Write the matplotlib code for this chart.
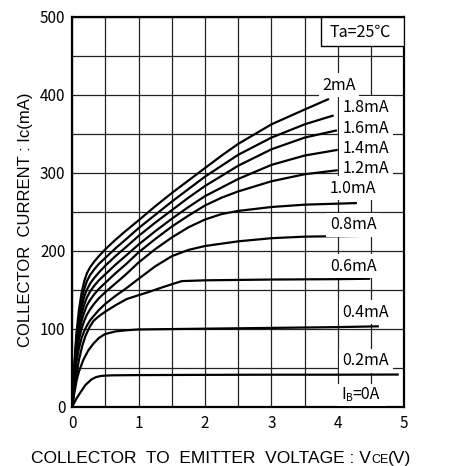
import matplotlib
matplotlib.use("Agg")
import matplotlib.pyplot as plt
from matplotlib.patches import Rectangle
from matplotlib.ticker import MultipleLocator

# --- collector characteristics, Ic (mA) vs Vce (V) ---
vce_hi = [0, .03, .06, .1, .14, .18, .22, .27, .33, .4, .5, .65, .8,
          1.0, 1.25, 1.5, 1.75, 2.0, 2.25, 2.5, 3.0, 3.5]

ic_2_0 = [0, 52, 92, 124, 146, 161, 171, 179, 186, 193, 202, 214, 225,
          239, 257, 274, 290, 306, 322, 337, 362, 381]
ic_1_8 = [0, 49, 86, 116, 137, 151, 161, 169, 176, 183, 191, 203, 214,
          229, 246, 263, 279, 295, 309, 323, 345, 362]
ic_1_6 = [0, 46, 81, 109, 128, 141, 150, 158, 165, 172, 181, 193, 204,
          219, 236, 252, 268, 283, 296, 309, 330, 345]
ic_1_4 = [0, 43, 76, 102, 119, 131, 140, 148, 155, 162, 170, 182, 193,
          208, 225, 241, 256, 270, 281, 292, 310, 322]
ic_1_2 = [0, 40, 71, 95, 110, 121, 130, 137, 144, 151, 159, 171, 182,
          198, 215, 231, 245, 258, 268, 276, 289, 298]
ic_1_0 = [0, 36, 64, 86, 100, 110, 118, 125, 132, 139, 147, 158, 169,
          185, 202, 217, 230, 240, 247, 251, 256, 259]
ic_0_8 = [0, 31, 56, 75, 88, 97, 104, 111, 117, 124, 132, 142, 151,
          164, 180, 193, 201, 206, 209, 212, 216, 218]

# end point (Vce, Ic) of each upper curve
ends_hi = [(3.85, 394), (3.92, 373), (3.97, 354), (3.98, 329),
           (3.98, 303), (4.27, 261), (4.41, 219)]

vce_0_6 = [0, .03, .06, .1, .15, .2, .26, .32, .4, .5, .65, .82, 1.0,
           1.15, 1.32, 1.5, 1.65, 2.0, 3.0, 4.0, 4.47]
ic_0_6 = [0, 22, 40, 60, 78, 91, 102, 110, 116, 122, 130, 138, 143,
          147, 152, 157, 161, 162, 163, 163.5, 164]

vce_0_4 = [0, .03, .066, .1, .166, .24, .32, .4, .49, .65, .82, 1.0,
           1.5, 2, 3, 4, 4.6]
ic_0_4 = [0, 17, 34, 45, 60, 72, 81, 88, 93, 96.5, 98, 99,
          99.5, 100, 101, 102, 103]

vce_0_2 = [0, .03, .06, .12, .2, .29, .36, .44, .6, 1, 2, 3, 4, 4.9]
ic_0_2 = [0, 5, 10, 18, 28, 35, 38, 39.5, 40.2, 40.5, 40.8, 41, 41, 41.2]

curve_labels = ["2mA", "1.8mA", "1.6mA", "1.4mA", "1.2mA", "1.0mA",
                "0.8mA", "0.6mA", "0.4mA", "0.2mA"]
label_pos = [(4.02, 412), (4.42, 383), (4.42, 357), (4.42, 331.5),
             (4.42, 306), (4.23, 280), (4.23, 233), (4.23, 180),
             (4.42, 121), (4.42, 58.6)]

JP = ["Noto Sans CJK JP", "DejaVu Sans"]
SANS = ["Liberation Sans", "DejaVu Sans"]

fig = plt.figure(figsize=(4.59, 4.66), dpi=100)
ax = fig.add_axes([0.1575, 0.1273, 0.7233, 0.8369])
ax.set_xlim(0, 5)
ax.set_ylim(0, 500)

ax.xaxis.set_major_locator(MultipleLocator(1))
ax.xaxis.set_minor_locator(MultipleLocator(0.5))
ax.yaxis.set_major_locator(MultipleLocator(100))
ax.yaxis.set_minor_locator(MultipleLocator(50))
ax.grid(which="both", color="#222222", lw=0.9)
ax.set_axisbelow(True)
ax.tick_params(which="both", length=0)
ax.tick_params(axis="x", pad=6)
ax.tick_params(axis="y", pad=5)
for lab in ax.get_xticklabels() + ax.get_yticklabels():
    lab.set_family(JP)
    lab.set_fontsize(11)
for s in ax.spines.values():
    s.set_linewidth(1.6)

lw = 1.6
for ic, (ve, ie) in zip([ic_2_0, ic_1_8, ic_1_6, ic_1_4, ic_1_2, ic_1_0, ic_0_8],
                        ends_hi):
    ax.plot(vce_hi + [ve], ic + [ie], color="black", lw=lw, zorder=3)
ax.plot(vce_0_6, ic_0_6, color="black", lw=lw, zorder=3)
ax.plot(vce_0_4, ic_0_4, color="black", lw=lw, zorder=3)
ax.plot(vce_0_2, ic_0_2, color="black", lw=lw, zorder=3)

box = dict(facecolor="white", edgecolor="none", pad=2.5)
for txt, (x, y) in zip(curve_labels, label_pos):
    ax.text(x, y, txt, family=JP, fontsize=11.5, ha="center", va="center",
            bbox=box, zorder=4)

# IB=0A with small B; a white patch sits behind the three pieces
ax.add_patch(Rectangle((3.98, 1.5), 0.75, 27, facecolor="white",
                       edgecolor="none", zorder=3.5))
t_i = ax.text(4.05, 15, "I", family=JP, fontsize=11.5, ha="left",
              va="center", zorder=4)
t_b = ax.annotate("B", xy=(1, 0), xycoords=t_i, family=JP, fontsize=7.5,
                  va="bottom", ha="left", zorder=4)
ax.annotate("=0A", xy=(1, 0), xycoords=(t_b, t_i), family=JP, fontsize=11.5,
            va="bottom", ha="left", zorder=4)

# temperature box in the corner
ax.add_patch(Rectangle((3.74, 462), 1.26, 38, facecolor="white",
                       edgecolor="black", lw=1.0, zorder=4))
ax.text(4.33, 480, "Ta=25℃", family=JP, fontsize=11.5, ha="center",
        va="center", zorder=5)

fig.text(0.0566, 0.528, "COLLECTOR  CURRENT : Ic(mA)", family=SANS,
         fontsize=12, rotation=90, ha="center", va="center")

# x title, with a small "CE" after the V
t1 = fig.text(0.068, 0.017, "COLLECTOR  TO  EMITTER  VOLTAGE : V",
              family=SANS, fontsize=12.5, ha="left", va="center")
ce = ax.annotate("CE", xy=(1, 0), xycoords=t1, family=SANS, fontsize=9,
                 va="bottom", ha="left", annotation_clip=False)
ax.annotate("(V)", xy=(1, 0), xycoords=(ce, t1), family=SANS, fontsize=12.5,
            va="bottom", ha="left", annotation_clip=False)

fig.savefig("out.png", dpi=100)
